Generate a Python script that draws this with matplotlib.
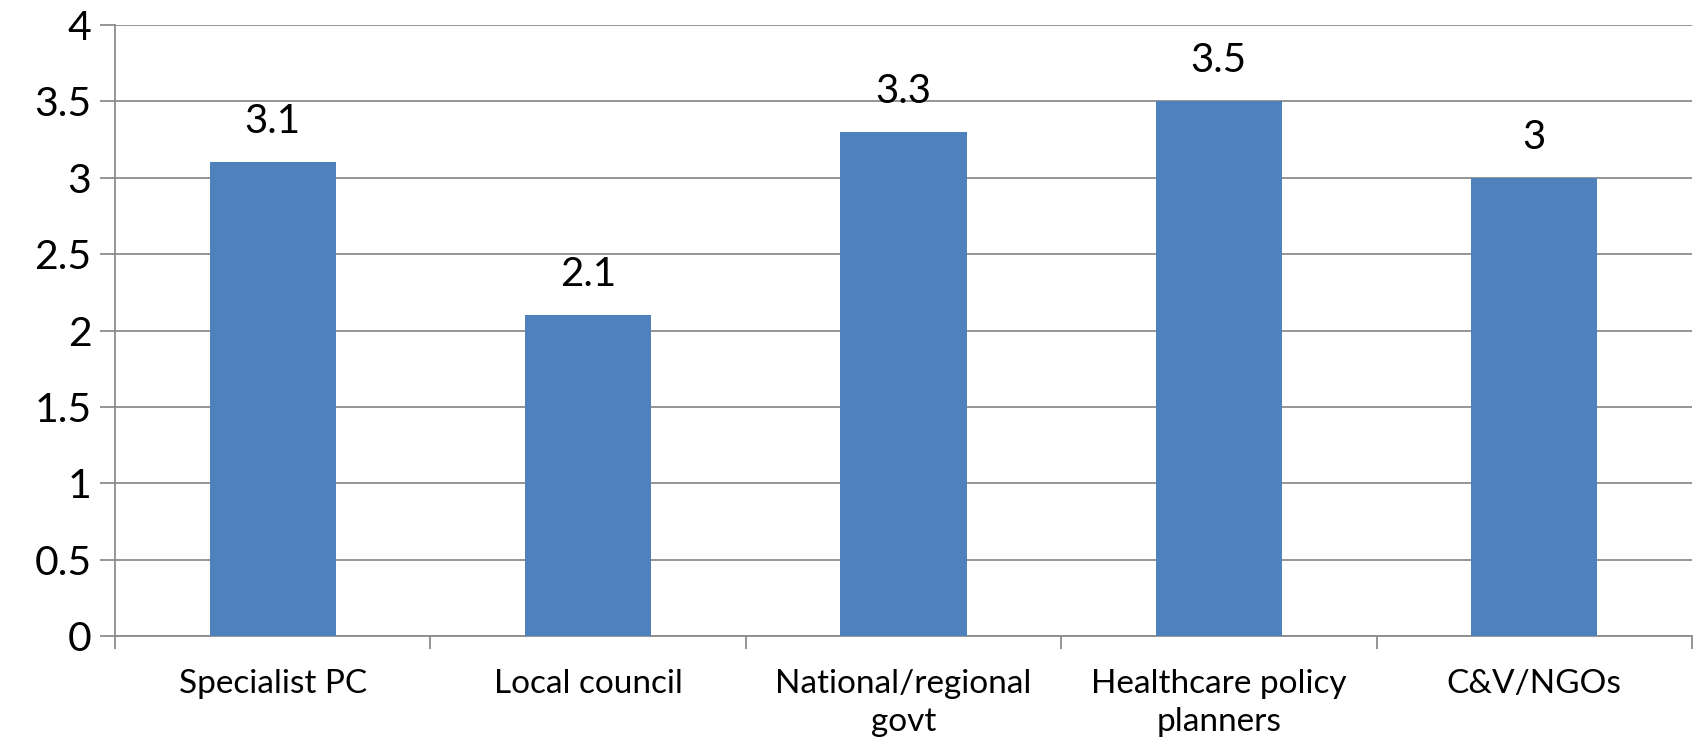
import matplotlib
matplotlib.use("Agg")
import matplotlib.pyplot as plt

categories = ["Specialist PC", "Local council", "National/regional\ngovt",
              "Healthcare policy\nplanners", "C&V/NGOs"]
values = [3.1, 2.1, 3.3, 3.5, 3.0]
value_labels = ["3.1", "2.1", "3.3", "3.5", "3"]
y_ticks = [0, 0.5, 1, 1.5, 2, 2.5, 3, 3.5, 4]
y_tick_labels = ["0", "0.5", "1", "1.5", "2", "2.5", "3", "3.5", "4"]

BAR = "#4F81BD"
GRID = "#8C8C8C"

plt.rcParams["font.family"] = ["Lato", "DejaVu Sans"]

fig = plt.figure(figsize=(16.96, 7.48), dpi=100)
ax = fig.add_axes([0.0678, 0.1497, 0.9298, 0.8169])

x = range(len(categories))
bars = ax.bar(x, values, width=0.4, color=BAR, zorder=3)
for b, lab in zip(bars, value_labels):
    ax.annotate(lab, xy=(b.get_x() + b.get_width() / 2, b.get_height()),
                xytext=(0, 16), textcoords="offset points",
                ha="center", va="bottom", fontsize=29)

ax.set_xlim(-0.5, len(categories) - 0.5)
ax.set_ylim(0, 4)
ax.set_yticks(y_ticks, y_tick_labels, fontsize=29.5)
ax.yaxis.grid(True, color=GRID, linewidth=1.3, zorder=0)

# major ticks on category boundaries, labels on minor ticks at centres
ax.set_xticks([i - 0.5 for i in range(len(categories) + 1)], [""] * (len(categories) + 1))
ax.set_xticks(list(x), categories, minor=True, fontsize=24)
for t in ax.get_xticklabels(minor=True):
    t.set_linespacing(1.3)
ax.tick_params(axis="x", which="major", length=9, width=1.3, color=GRID)
ax.tick_params(axis="x", which="minor", length=0, pad=24)
ax.tick_params(axis="y", length=11, width=1.3, color=GRID, pad=6)

for side in ["top", "right"]:
    ax.spines[side].set_visible(False)
for side in ["left", "bottom"]:
    ax.spines[side].set_color(GRID)
    ax.spines[side].set_linewidth(1.3)

fig.savefig("out.png", dpi=100)
